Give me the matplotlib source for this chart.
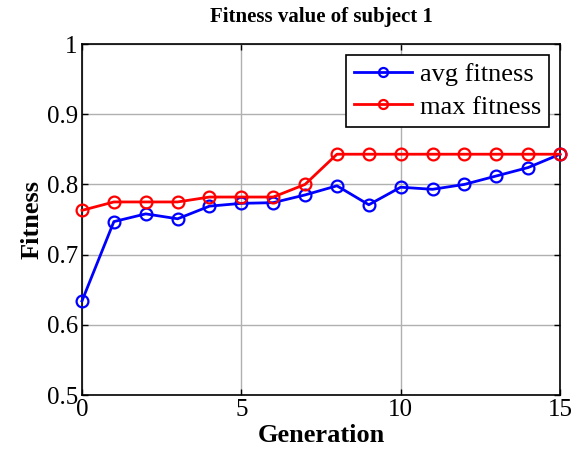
import matplotlib
matplotlib.use("Agg")
import matplotlib.pyplot as plt

generations = list(range(16))
avg_fitness = [0.634, 0.747, 0.758, 0.751, 0.769, 0.773, 0.774, 0.785,
               0.798, 0.771, 0.796, 0.793, 0.800, 0.812, 0.824, 0.843]
max_fitness = [0.763, 0.775, 0.775, 0.775, 0.782, 0.782, 0.782, 0.800,
               0.843, 0.843, 0.843, 0.843, 0.843, 0.843, 0.843, 0.843]
x_ticks = [0, 5, 10, 15]
y_ticks = [0.5, 0.6, 0.7, 0.8, 0.9, 1.0]
y_tick_labels = ["0.5", "0.6", "0.7", "0.8", "0.9", "1"]

plt.rcParams['font.family'] = ['Liberation Serif', 'DejaVu Serif']

fig = plt.figure(figsize=(5.79, 4.57), dpi=100)
ax = fig.add_axes([82/579, 1 - 395/457, (560-82)/579, (395-44)/457])

ax.plot(generations, avg_fitness, color='#0000ff', lw=2, marker='o', ms=8.5,
        mfc='none', mew=1.6, label='avg fitness', clip_on=False, zorder=3)
ax.plot(generations, max_fitness, color='#ff0000', lw=2, marker='o', ms=8.5,
        mfc='none', mew=1.6, label='max fitness', clip_on=False, zorder=3)

ax.set_xlim(0, 15)
ax.set_ylim(0.5, 1.0)
ax.set_xticks(x_ticks)
ax.set_yticks(y_ticks)
ax.set_yticklabels(y_tick_labels)
ax.tick_params(direction='in', top=True, right=True, labelsize=18, length=4,
               width=1, pad=3)
ax.grid(True, color='#b0b0b0', lw=1)
ax.set_axisbelow(True)
for s in ax.spines.values():
    s.set_linewidth(1.2)

ax.set_title('Fitness value of subject 1', fontsize=15, fontweight='bold', pad=16)
ax.set_xlabel('Generation', fontsize=19, fontweight='bold', labelpad=2)
ax.set_ylabel('Fitness', fontsize=19, fontweight='bold', labelpad=2)

leg = ax.legend(loc='upper right', fontsize=19, frameon=True, fancybox=False,
                edgecolor='black', framealpha=1, borderpad=0.3,
                handlelength=2.2, handletextpad=0.3, labelspacing=0.35,
                borderaxespad=0.4)
leg.get_frame().set_linewidth(1.2)
for h in leg.legend_handles:
    h.set_markersize(6.5)

fig.savefig('out.png', dpi=100)
